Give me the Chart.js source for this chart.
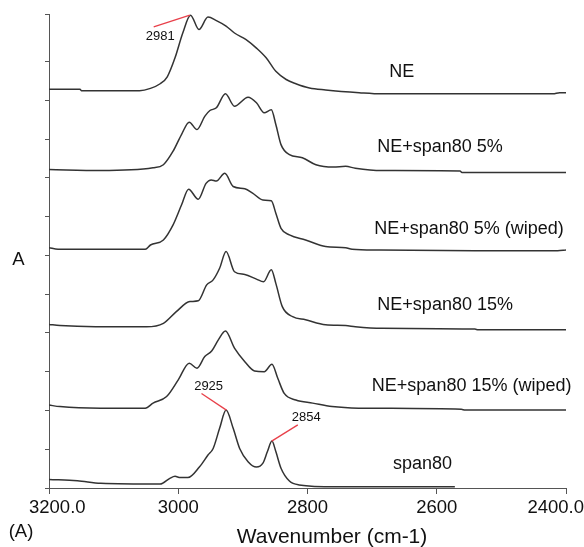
<!DOCTYPE html>
<html>
<head>
<meta charset="utf-8">
<script src="https://cdn.jsdelivr.net/npm/chart.js@4.4.1/dist/chart.umd.min.js"></script>
<style>
  html, body { margin: 0; padding: 0; background: #fff; }
  #wrap { width: 584px; height: 547px; }
</style>
</head>
<body>
<div id="wrap"><canvas id="grafico" width="584" height="547"></canvas></div>
<script>
// spectra, stacked with an offset (absorbance units)
const wnNE = [3200, 3152, 3150, 3060, 3043, 3028, 3017, 3005, 2993, 2981, 2968, 2954, 2941, 2926, 2913, 2895, 2879, 2864, 2849, 2833, 2818, 2797, 2772, 2720, 2685, 2420, 2410, 2400];
const absNE = [10.29, 10.29, 10.25, 10.25, 10.31, 10.43, 10.61, 11.10, 11.74, 12.20, 11.83, 12.15, 12.06, 11.92, 11.74, 11.57, 11.35, 11.10, 10.75, 10.54, 10.43, 10.32, 10.27, 10.20, 10.17, 10.17, 10.20, 10.20];

const wn5 = [3200, 3120, 3039, 3023, 3008, 2995, 2983, 2971, 2959, 2951, 2941, 2927, 2913, 2892, 2879, 2867, 2856, 2849, 2841, 2828, 2808, 2787, 2760, 2741, 2726, 2685, 2564, 2561, 2400];
const abs5 = [8.22, 8.19, 8.26, 8.34, 8.69, 9.12, 9.44, 9.25, 9.59, 9.74, 9.81, 10.17, 9.85, 10.08, 9.94, 9.68, 9.76, 9.38, 8.86, 8.60, 8.52, 8.34, 8.28, 8.30, 8.25, 8.19, 8.18, 8.14, 8.14];

const wn5w = [3200, 3186, 3051, 3043, 3023, 3008, 2995, 2984, 2969, 2957, 2949, 2941, 2928, 2915, 2897, 2885, 2869, 2856, 2849, 2841, 2828, 2803, 2772, 2741, 2731, 2690, 2541, 2413, 2400];
const abs5w = [6.20, 6.16, 6.16, 6.27, 6.40, 6.79, 7.30, 7.71, 7.45, 7.86, 7.95, 7.92, 8.12, 7.78, 7.72, 7.61, 7.43, 7.41, 7.09, 6.70, 6.53, 6.40, 6.23, 6.20, 6.16, 6.14, 6.12, 6.12, 6.14];

const wn15 = [3200, 3183, 3128, 3049, 3023, 3003, 2982, 2969, 2956, 2946, 2936, 2926, 2913, 2897, 2879, 2868, 2856, 2849, 2839, 2823, 2803, 2772, 2741, 2726, 2685, 2541, 2536, 2400];
const abs15 = [4.22, 4.19, 4.16, 4.16, 4.25, 4.55, 4.81, 4.83, 5.24, 5.37, 5.67, 6.10, 5.58, 5.51, 5.39, 5.32, 5.63, 5.28, 4.68, 4.42, 4.34, 4.21, 4.19, 4.16, 4.12, 4.10, 4.08, 4.08];

const wn15w = [3200, 3183, 3120, 3051, 3039, 3018, 3000, 2983, 2971, 2959, 2948, 2938, 2927, 2913, 2897, 2882, 2867, 2855, 2846, 2836, 2818, 2792, 2762, 2721, 2562, 2556, 2400];
const abs15w = [2.14, 2.10, 2.06, 2.06, 2.19, 2.36, 2.79, 3.22, 3.09, 3.39, 3.54, 3.82, 4.05, 3.61, 3.26, 3.02, 3.00, 3.19, 2.83, 2.44, 2.27, 2.19, 2.10, 2.06, 2.03, 2.01, 2.01];

const wnSpan = [3200, 3156, 3120, 3028, 3013, 3005, 2997, 2985, 2967, 2954, 2946, 2936, 2926, 2915, 2905, 2892, 2879, 2869, 2862, 2855, 2849, 2841, 2828, 2813, 2756, 2572];
const absSpan = [0.22, 0.19, 0.12, 0.10, 0.25, 0.30, 0.27, 0.27, 0.55, 0.85, 1.02, 1.54, 2.01, 1.54, 1.02, 0.68, 0.54, 0.64, 0.94, 1.21, 0.94, 0.51, 0.18, 0.08, 0.03, 0.03];

const nomes = ['NE', 'NE+span80 5%', 'NE+span80 5% (wiped)', 'NE+span80 15%', 'NE+span80 15% (wiped)', 'span80'];
const numerosX = [wnNE, wn5, wn5w, wn15, wn15w, wnSpan];
const absorb = [absNE, abs5, abs5w, abs15, abs15w, absSpan];

// x axis ticks
const tickVals = [3200, 3000, 2800, 2600, 2400];
const tickLabels = ['3200.0', '3000', '2800', '2600', '2400.0'];

// marked peaks
const picos = [2981, 2925, 2854];

const FONTE = '"Liberation Sans", Arial, Helvetica, sans-serif';

// where the names and peak numbers sit (wavenumber, absorbance)
const posNomes = [[2654, 10.61], [2595, 8.68], [2550, 6.55], [2587, 4.58], [2546, 2.51], [2622, 0.49]];
const linhasPico = [[2982, 12.20, 3038, 11.90], [2925.5, 2.01, 2964, 2.44], [2855.4, 1.21, 2815, 1.63]];
const posPico = [[3028, 11.66], [2953, 2.61], [2802, 1.81]];

const textos = {
  id: 'textos',
  afterDraw(chart) {
    const ctx = chart.ctx;
    const x = chart.scales.x, y = chart.scales.y;
    const area = chart.chartArea;
    ctx.save();
    ctx.fillStyle = '#111';

    // tick labels
    ctx.font = '18.5px ' + FONTE;
    ctx.textAlign = 'center';
    ctx.textBaseline = 'alphabetic';
    tickVals.forEach((v, i) => {
      const w = ctx.measureText(tickLabels[i]).width;
      let px = x.getPixelForValue(v);
      px = Math.min(Math.max(px, 29 + w / 2), chart.width - w / 2);
      ctx.fillText(tickLabels[i], px, area.bottom + 25);
    });

    // axis titles
    ctx.font = '21px ' + FONTE;
    ctx.fillText('Wavenumber (cm-1)', 332, area.bottom + 55);
    ctx.font = '18.5px ' + FONTE;
    ctx.fillText('A', 18.5, 265);
    ctx.fillText('(A)', 21, area.bottom + 49);

    // spectrum names
    ctx.font = '18px ' + FONTE;
    nomes.forEach((n, i) => {
      ctx.fillText(n, x.getPixelForValue(posNomes[i][0]), y.getPixelForValue(posNomes[i][1]));
    });

    // peak markers
    ctx.strokeStyle = '#e8404a';
    ctx.lineWidth = 1.3;
    linhasPico.forEach(l => {
      ctx.beginPath();
      ctx.moveTo(x.getPixelForValue(l[0]), y.getPixelForValue(l[1]));
      ctx.lineTo(x.getPixelForValue(l[2]), y.getPixelForValue(l[3]));
      ctx.stroke();
    });
    ctx.font = '13px ' + FONTE;
    ctx.textBaseline = 'middle';
    picos.forEach((p, i) => {
      ctx.fillText(String(p), x.getPixelForValue(posPico[i][0]), y.getPixelForValue(posPico[i][1]));
    });
    ctx.restore();
  }
};

const ctx = document.getElementById('grafico').getContext('2d');
new Chart(ctx, {
  type: 'line',
  data: {
    datasets: nomes.map((n, i) => ({
      label: n,
      data: numerosX[i].map((w, j) => ({ x: w, y: absorb[i][j] })),
      borderColor: '#333',
      borderWidth: 1.5,
      pointRadius: 0,
      fill: false,
      cubicInterpolationMode: 'monotone'
    }))
  },
  options: {
    responsive: false,
    animation: false,
    layout: { padding: { left: 45, right: 18, top: 14, bottom: 53 } },
    plugins: {
      legend: { display: false },
      tooltip: { enabled: false }
    },
    scales: {
      x: {
        type: 'linear',
        reverse: true,
        min: 2400,
        max: 3200,
        ticks: { display: false, stepSize: 200 },
        grid: { drawOnChartArea: false, drawTicks: true, tickLength: 6, color: '#555' },
        border: { display: true, color: '#555', width: 1 }
      },
      y: {
        min: 0,
        max: 12.23,
        ticks: { display: false, stepSize: 1 },
        grid: { drawOnChartArea: false, drawTicks: true, tickLength: 4, color: '#555' },
        border: { display: true, color: '#555', width: 1 }
      }
    }
  },
  plugins: [textos]
});
</script>
</body>
</html>
